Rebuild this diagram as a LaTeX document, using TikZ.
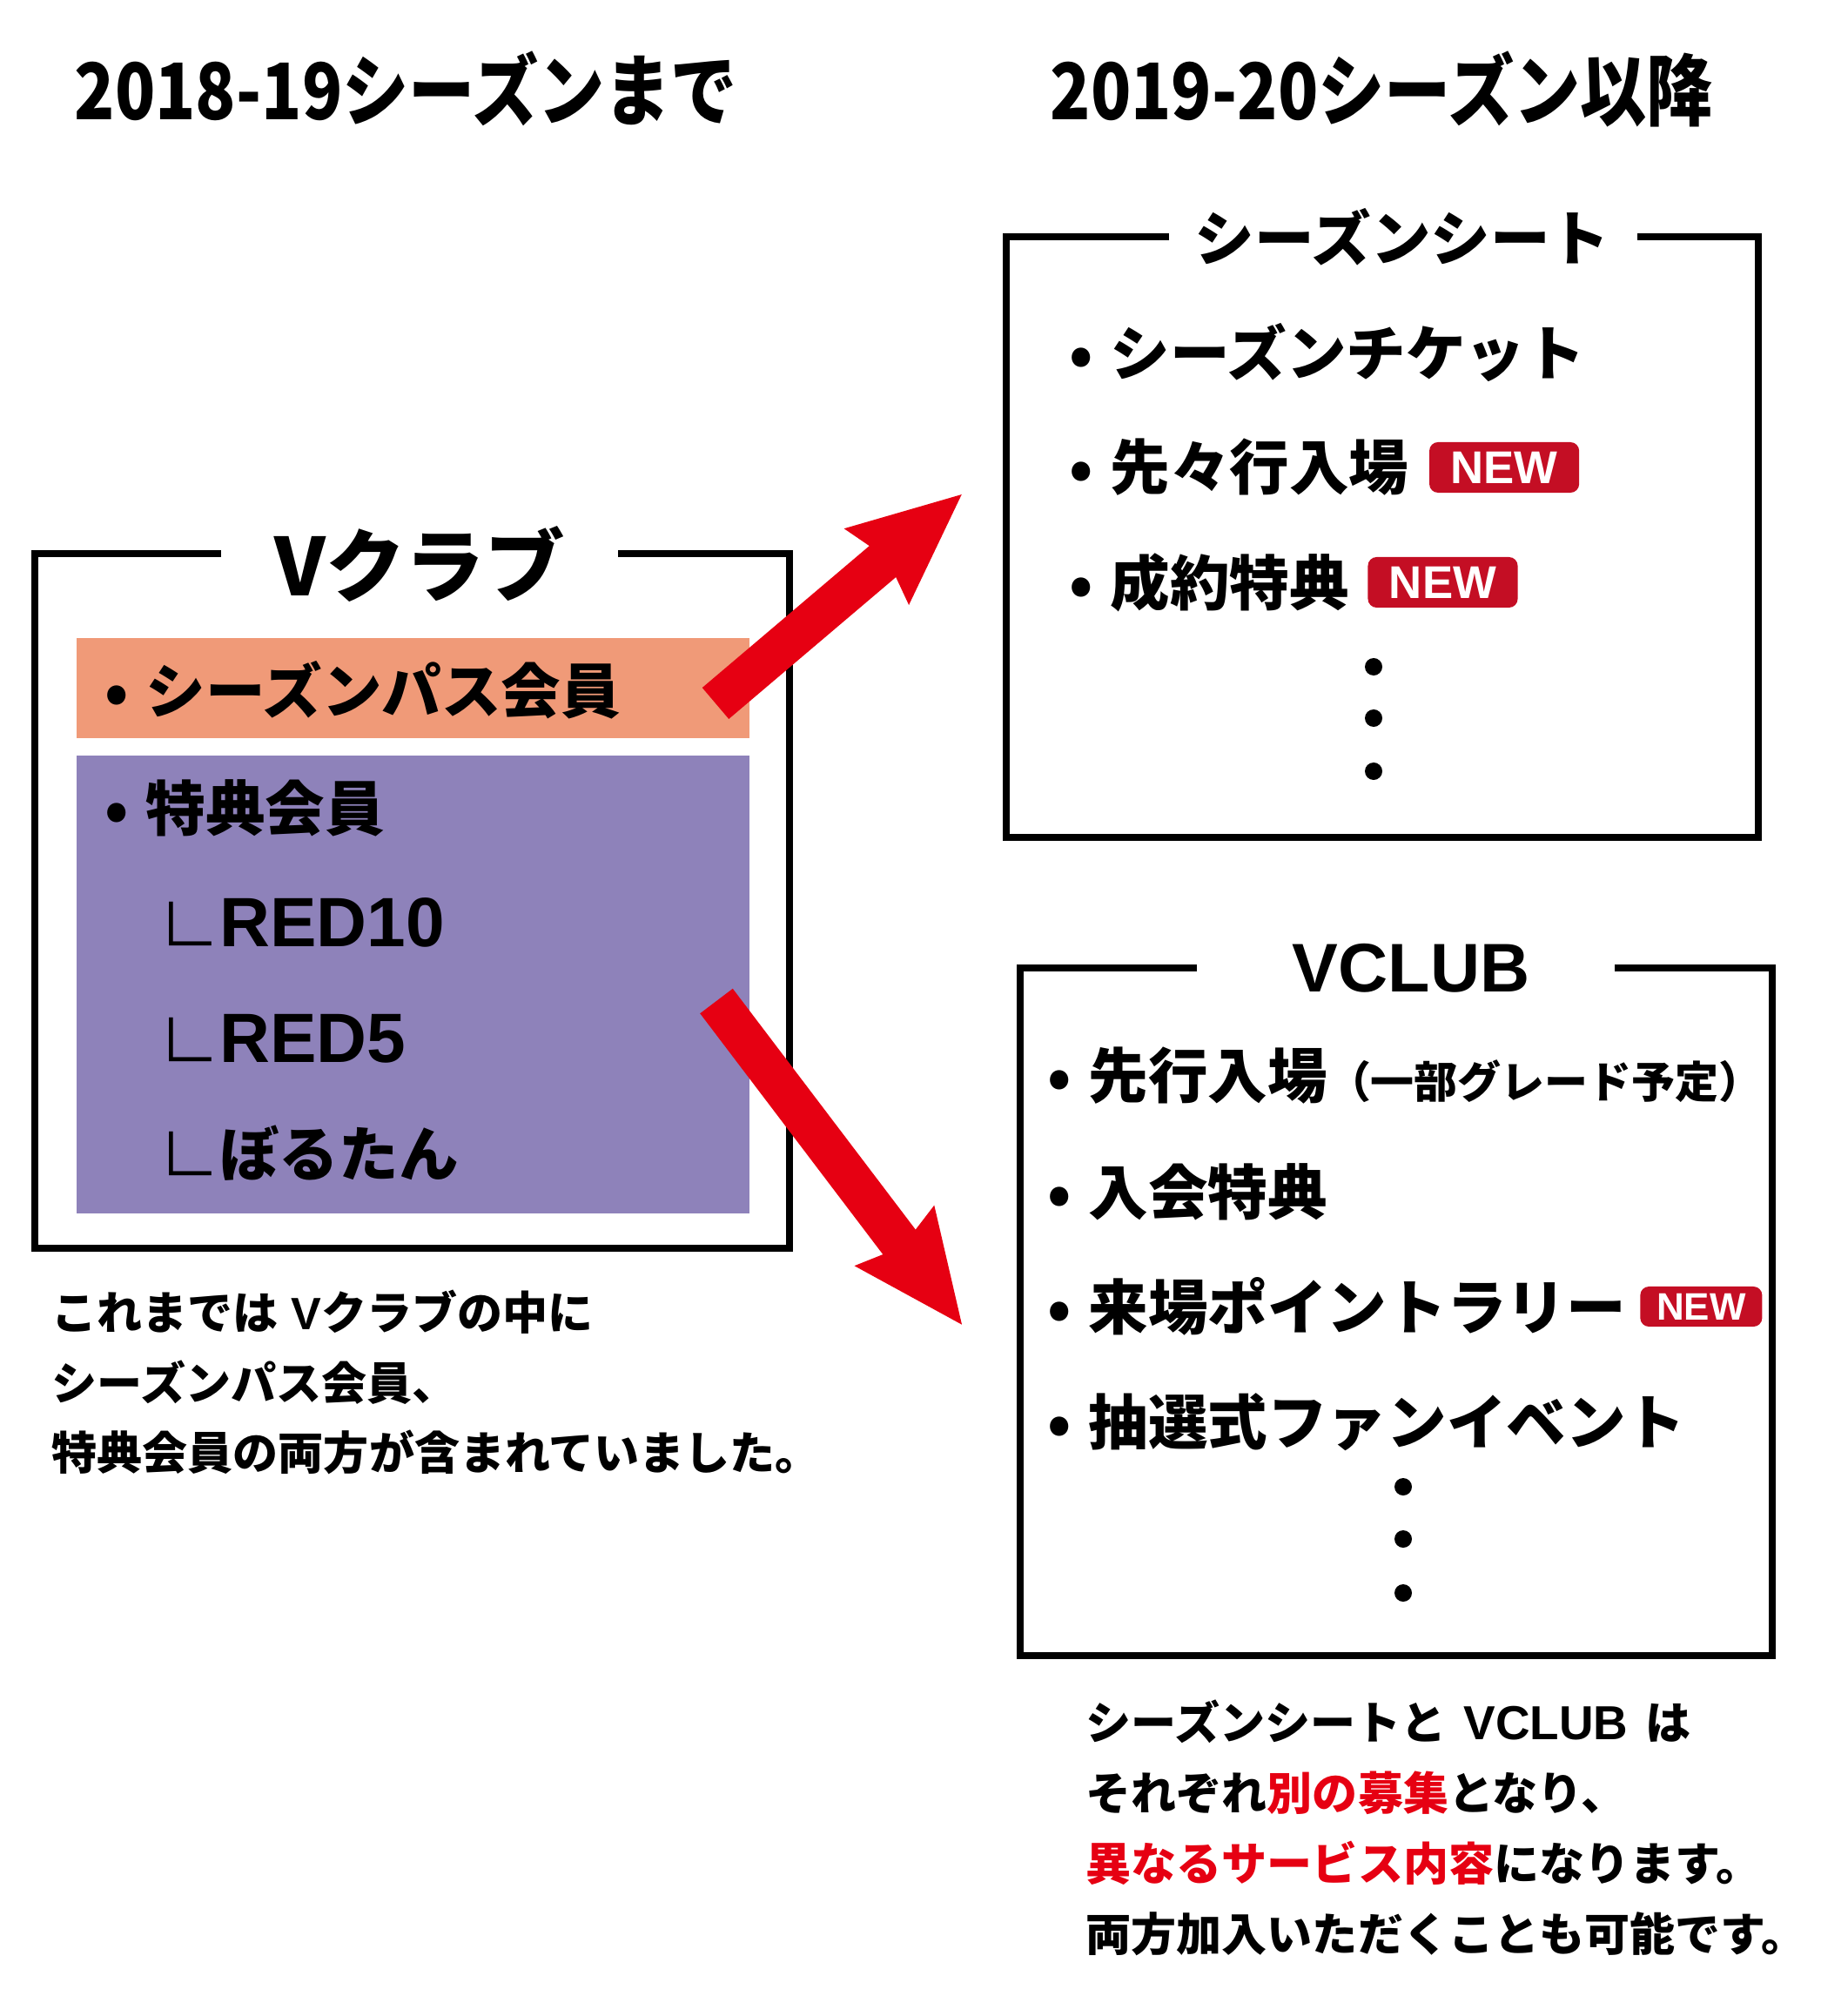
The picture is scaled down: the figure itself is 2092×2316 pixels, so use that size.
\documentclass[tikz,border=0pt]{standalone}
\usepackage{fontspec}
\setmainfont{Noto Sans CJK JP}[BoldFont={Noto Sans CJK JP Black}]
\newfontfamily\latfont{Liberation Sans}
\newfontfamily\headfont{Noto Sans CJK JP}[FakeStretch=0.85,BoldFont={Noto Sans CJK JP Black}]
\usetikzlibrary{positioning,arrows.meta}
\definecolor{vred}{RGB}{230,0,18}
\definecolor{newred}{RGB}{196,14,36}
\definecolor{passorange}{RGB}{240,154,120}
\definecolor{perkpurple}{RGB}{142,130,186}
\newcommand{\bul}[1]{\makebox[0.47cm][l]{•}#1}
\tikzset{
  frame/.style={line width=2.2pt},
  item/.style={anchor=west, inner sep=0pt, font=\fontsize{19.5}{22}\selectfont\bfseries},
  subitem/.style={anchor=west, inner sep=0pt, font=\fontsize{19.5}{22}\selectfont},
  boxtitle/.style={inner sep=0pt, font=\fontsize{19.5}{22}\selectfont\bfseries},
  newtag/.style={fill=newred, rounded corners=0.1cm, text=white, inner sep=0pt, minimum width=1.72cm, minimum height=0.58cm, font=\latfont\fontsize{15}{15}\selectfont\bfseries},
  note/.style={anchor=west, inner sep=0pt, align=left, font=\fontsize{14.8}{23}\selectfont\bfseries},
  heading/.style={anchor=west, inner sep=0pt, font=\headfont\fontsize{25.5}{27}\selectfont\bfseries},
  bigarrow/.style={draw=vred, line width=13.4pt, -{Stealth[length=1.26cm,width=1.07cm,inset=0.12cm,fill=vred]}}
}
\begin{document}
\begin{tikzpicture}[x=0.01cm, y=-0.01cm]
\useasboundingbox (0,0) rectangle (2092,2316);
% headings
\node[heading] (before) at (85,102) {2018-19シーズンまで};
\node[heading] (after) at (1206,102) {2019-20シーズン以降};

% V club (old)
\fill[passorange] (88,733) rectangle (861,848);
\fill[perkpurple] (88,868) rectangle (861,1394);
\draw[frame] (254,636) -| (40,1434) -| (907,636) -- (710,636);
\node[inner sep=0pt, font=\fontsize{26}{28}\selectfont\bfseries] (vclubold) at (482,648) {Vクラブ};
\node[item] (pass) at (120,793) {\bul{シーズンパス会員}};
\node[item] (perk) at (120,928) {\bul{特典会員}};
\node[subitem] (red10) at (183,1060) {∟{\latfont\bfseries\fontsize{22.8}{24}\selectfont RED10}};
\node[subitem] (red5) at (183,1193) {∟{\latfont\bfseries\fontsize{22.8}{24}\selectfont RED5}};
\node[subitem] (borutan) at (183,1325) {∟{\bfseries ぼるたん}};
\node[note] (oldnote) at (59,1588) {これまでは\hspace{0.15cm}{\latfont V}クラブの中に\\シーズンパス会員、\\特典会員の両方が含まれていました。};

% season seat
\draw[frame] (1343,272) -| (1156,962) -| (2020,272) -- (1881,272);
\node[boxtitle] (seat) at (1611,272) {シーズンシート};
\node[item] (ticket) at (1228,405) {\bul{シーズンチケット}};
\node[item] (early) at (1228,537) {\bul{先々行入場}};
\node[newtag, right=0.22cm of early] (earlynew) {NEW};
\node[item] (contract) at (1228,669) {\bul{成約特典}};
\node[newtag, right=0.2cm of contract] (contractnew) {NEW};
\foreach \y in {766,825,886} \fill (1578,\y) circle (0.1cm);

% VCLUB (new)
\draw[frame] (1375,1112) -| (1172,1902) -| (2036,1112) -- (1855,1112);
\node[inner sep=0pt, font=\latfont\fontsize{22.5}{24}\selectfont\bfseries] (vclub) at (1621,1112) {VCLUB};
\node[item] (preentry) at (1203,1236) {\bul{先行入場{\fontsize{14.2}{16}\selectfont（一部グレード予定）}}};
\node[item] (joinperk) at (1203,1369) {\bul{入会特典}};
\node[item] (rally) at (1203,1501) {\bul{来場ポイントラリー}};
\node[newtag, right=0.15cm of rally, minimum width=1.4cm, minimum height=0.46cm, font=\latfont\fontsize{12.5}{13}\selectfont\bfseries] (rallynew) {NEW};
\node[item] (fanevent) at (1203,1634) {\bul{抽選式ファンイベント}};
\foreach \y in {1708,1768,1830} \fill (1612,\y) circle (0.1cm);
\node[note] (newnote) at (1247,2100) {シーズンシートと\hspace{0.2cm}{\latfont\fontsize{15.6}{23}\selectfont VCLUB}\hspace{0.2cm}は\\それぞれ\textcolor{vred}{別の募集}となり、\\\textcolor{vred}{異なるサービス内容}になります。\\両方加入いただくことも可能です。};

% arrows
\coordinate (passout) at (822,808);
\coordinate (seatin) at (1106,567);
\coordinate (perkout) at (823,1150);
\coordinate (clubin) at (1106,1523);
\draw[bigarrow] (passout) -- (seatin);
\draw[bigarrow] (perkout) -- (clubin);
\end{tikzpicture}
\end{document}
